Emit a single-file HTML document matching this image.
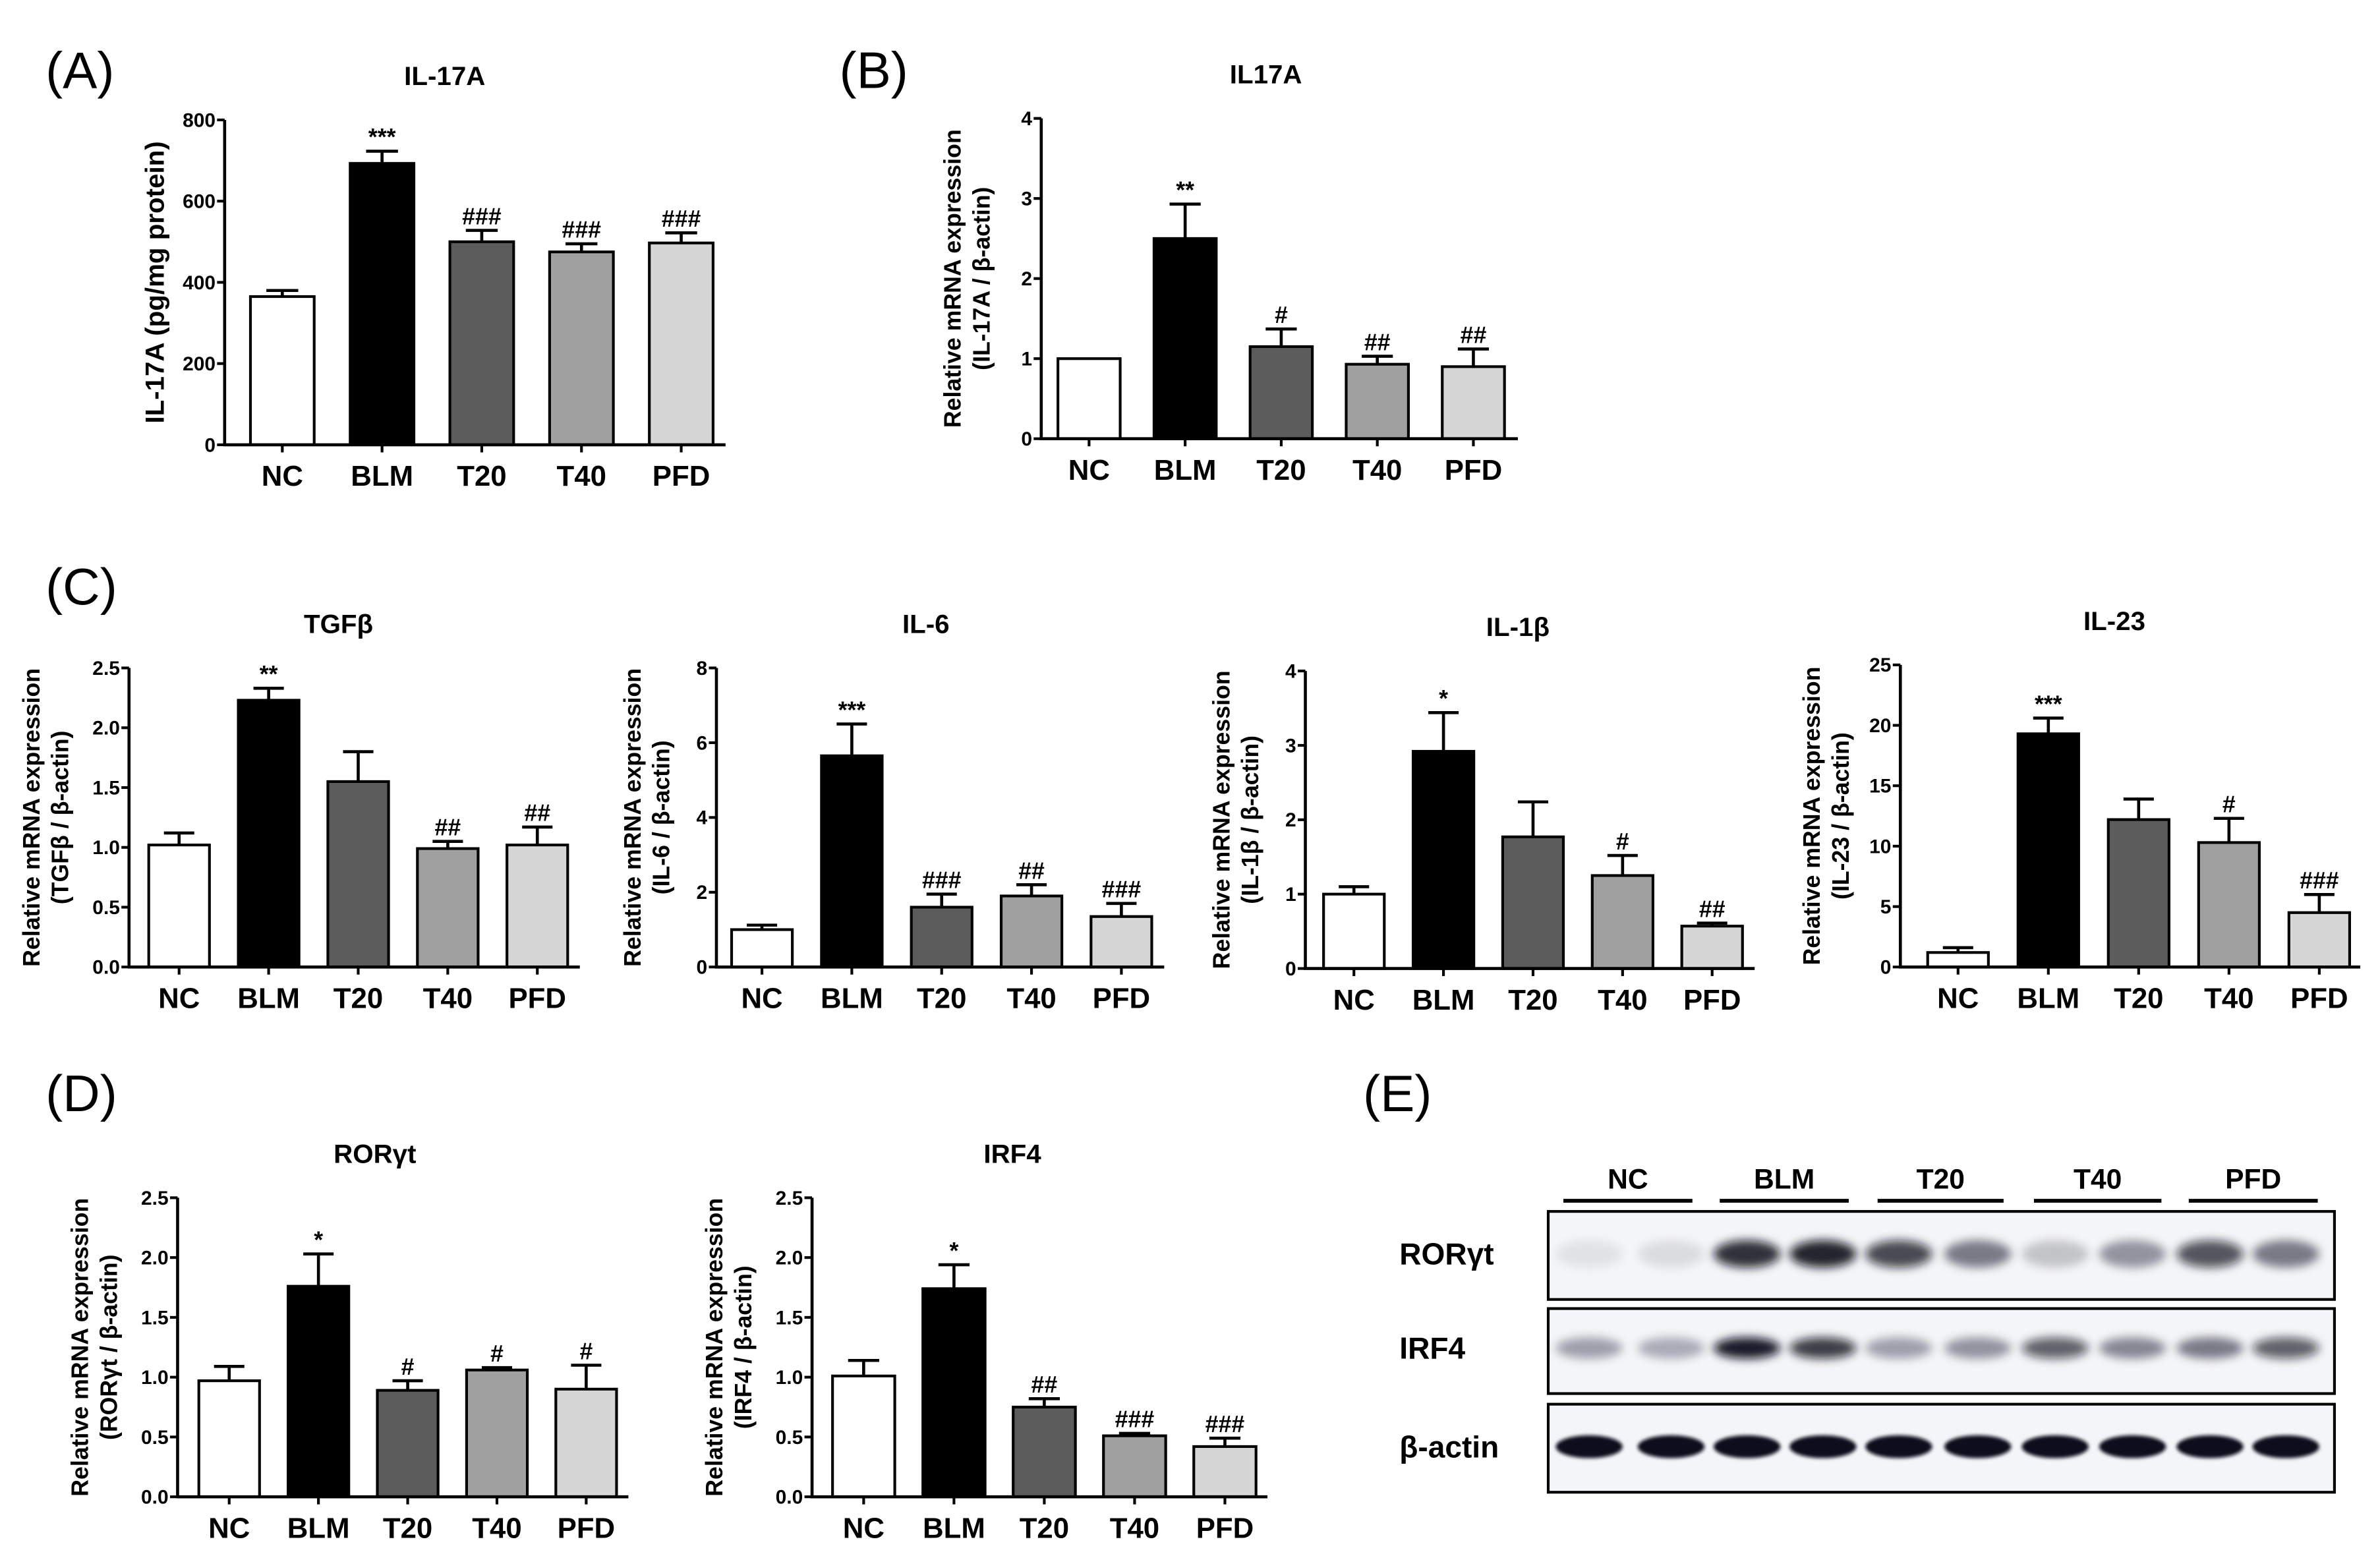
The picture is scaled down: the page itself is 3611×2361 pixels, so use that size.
<!DOCTYPE html>
<html><head><meta charset="utf-8"><style>
html,body{margin:0;padding:0;background:#fff}
svg{display:block}
text{font-family:"Liberation Sans",Arial,sans-serif;font-weight:bold;fill:#000}
</style></head><body>
<svg id="fig" width="3611" height="2361" viewBox="0 0 1568 1025" preserveAspectRatio="none" xmlns="http://www.w3.org/2000/svg">
<defs><filter id="blur" x="-50%" y="-50%" width="200%" height="200%"><feGaussianBlur stdDeviation="3"/></filter>
<filter id="blur2" x="-50%" y="-50%" width="200%" height="200%"><feGaussianBlur stdDeviation="1.2"/></filter></defs>
<text x="30" y="58" font-size="34" style="font-weight:normal">(A)</text>
<text x="553" y="58" font-size="34" style="font-weight:normal">(B)</text>
<text x="30" y="398" font-size="34" style="font-weight:normal">(C)</text>
<text x="30" y="732" font-size="34" style="font-weight:normal">(D)</text>
<text x="898" y="732" font-size="34" style="font-weight:normal">(E)</text>
<g id="charts"></g>
<g id="blot"></g>
</svg>
<script>
const categories = ["NC","BLM","T20","T40","PFD"];
const aValues = [365,693,500,475,497];
const aErrors = [15,30,28,20,25];
const aAnnot = ["","***","###","###","###"];
const aTicks = [0,200,400,600,800];
const bValues = [1.0,2.5,1.15,0.93,0.9];
const bErrors = [0,0.43,0.22,0.1,0.22];
const bAnnot = ["","**","#","##","##"];
const bTicks = [0,1,2,3,4];
const tgfValues = [1.02,2.23,1.55,0.99,1.02];
const tgfErrors = [0.1,0.1,0.25,0.06,0.15];
const tgfAnnot = ["","**","","##","##"];
const tgfTicks = [0,0.5,1.0,1.5,2.0,2.5];
const il6Values = [1.0,5.65,1.6,1.9,1.35];
const il6Errors = [0.12,0.85,0.35,0.3,0.35];
const il6Annot = ["","***","###","##","###"];
const il6Ticks = [0,2,4,6,8];
const il1Values = [1.0,2.92,1.77,1.25,0.57];
const il1Errors = [0.1,0.52,0.47,0.27,0.04];
const il1Annot = ["","*","","#","##"];
const il1Ticks = [0,1,2,3,4];
const il23Values = [1.2,19.3,12.2,10.3,4.5];
const il23Errors = [0.4,1.3,1.7,2.0,1.5];
const il23Annot = ["","***","","#","###"];
const il23Ticks = [0,5,10,15,20,25];
const rorValues = [0.97,1.76,0.89,1.06,0.9];
const rorErrors = [0.12,0.27,0.08,0.02,0.2];
const rorAnnot = ["","*","#","#","#"];
const rorTicks = [0,0.5,1.0,1.5,2.0,2.5];
const irfValues = [1.01,1.74,0.75,0.51,0.42];
const irfErrors = [0.13,0.2,0.07,0.02,0.07];
const irfAnnot = ["","*","##","###","###"];
const irfTicks = [0,0.5,1.0,1.5,2.0,2.5];
const fills = ["#ffffff","#000000","#5c5c5c","#a0a0a0","#d6d6d6"];

const NS="http://www.w3.org/2000/svg";
function mk(tag,attrs,parent){const e=document.createElementNS(NS,tag);for(const k in attrs)e.setAttribute(k,attrs[k]);parent.appendChild(e);return e;}
function fmt(v,dec){return dec?v.toFixed(1):String(v);}

function chart(c){
  const g=mk('g',{},document.getElementById('charts'));
  
  
  const max=c.ticks[c.ticks.length-1];
  const y=v=>c.y0-(v/max)*(c.y0-c.yTop);
  const x=i=>c.x0+i*c.sp;
  const t=mk('text',{x:c.titleX,y:c.yTop-23,'font-size':17.5,'text-anchor':'middle'},g);
  t.textContent=c.title;
  
  
  c.values.forEach((v,i)=>{
    const r=mk('rect',{x:x(i)-c.w/2,y:y(v),width:c.w,height:c.y0-y(v),fill:fills[i],stroke:'#000','stroke-width':1.8},g);
    
    
    const e=c.errors[i];
    if(e>0){
      const eb=mk('path',{d:`M${x(i)} ${y(v)} V${y(v+e)} M${x(i)-c.w/4} ${y(v+e)} H${x(i)+c.w/4}`,stroke:'#000','stroke-width':2,fill:'none'},g);
      
      
    }
    if(c.annot[i]){
      const a=mk('text',{x:x(i),y:y(v+e)-4,'font-size':15.5,'text-anchor':'middle'},g);
      a.textContent=c.annot[i];
      
      
    }
    const l=mk('text',{x:x(i),y:c.y0+27,'font-size':19,'text-anchor':'middle'},g);
    l.textContent=categories[i];
    
    
    mk('line',{x1:x(i),x2:x(i),y1:c.y0,y2:c.y0+5,stroke:'#000','stroke-width':1.8},g);
  });
  const ax=mk('path',{d:`M${c.ax} ${c.yTop} V${c.y0} H${c.xEnd}`,stroke:'#000','stroke-width':2,fill:'none'},g);
  
  
  c.ticks.forEach(tv=>{
    mk('line',{x1:c.ax-5,x2:c.ax,y1:y(tv),y2:y(tv),stroke:'#000','stroke-width':1.8},g);
    const tl=mk('text',{x:c.ax-6,y:y(tv)+4.5,'font-size':13,'text-anchor':'end'},g);
    tl.textContent=fmt(tv,c.dec);
    
    
  });
  const mid=(c.yTop+c.y0)/2;
  c.ylab.forEach((s,k)=>{
    const lx=c.ax-c.labOff+k*19;
    const yl=mk('text',{x:lx,y:mid,'font-size':c.labSize||15.5,'text-anchor':'middle',transform:`rotate(-90 ${lx} ${mid})`},g);
    yl.textContent=s;
    
    
  });
}
const R="Relative mRNA expression";
chart({name:'chart-il17a-protein',title:'IL-17A',titleX:293,ax:148,yTop:79,y0:293,x0:186,sp:65.7,w:42,xEnd:478,values:aValues,errors:aErrors,annot:aAnnot,ticks:aTicks,dec:false,ylab:['IL-17A (pg/mg protein)'],labOff:40,labSize:17.5});
chart({name:'chart-il17a-mrna',title:'IL17A',titleX:834,ax:686,yTop:78,y0:289,x0:717.5,sp:63.3,w:41,xEnd:1000,values:bValues,errors:bErrors,annot:bAnnot,ticks:bTicks,dec:false,ylab:[R,'(IL-17A / β-actin)'],labOff:53});
chart({name:'chart-tgfb',title:'TGFβ',titleX:223,ax:85,yTop:440,y0:637,x0:118,sp:59,w:40,xEnd:382,values:tgfValues,errors:tgfErrors,annot:tgfAnnot,ticks:tgfTicks,dec:true,ylab:[R,'(TGFβ / β-actin)'],labOff:59});
chart({name:'chart-il6',title:'IL-6',titleX:610,ax:472,yTop:440,y0:637,x0:502,sp:59.2,w:40,xEnd:767,values:il6Values,errors:il6Errors,annot:il6Annot,ticks:il6Ticks,dec:false,ylab:[R,'(IL-6 / β-actin)'],labOff:50});
chart({name:'chart-il1b',title:'IL-1β',titleX:1000,ax:860,yTop:442,y0:638,x0:892,sp:59,w:40,xEnd:1156,values:il1Values,errors:il1Errors,annot:il1Annot,ticks:il1Ticks,dec:false,ylab:[R,'(IL-1β / β-actin)'],labOff:50});
chart({name:'chart-il23',title:'IL-23',titleX:1393,ax:1252,yTop:438,y0:637,x0:1290,sp:59.5,w:40,xEnd:1555,values:il23Values,errors:il23Errors,annot:il23Annot,ticks:il23Ticks,dec:false,ylab:[R,'(IL-23 / β-actin)'],labOff:53});
chart({name:'chart-rorgt',title:'RORγt',titleX:247,ax:117,yTop:789,y0:986,x0:151,sp:58.8,w:40,xEnd:414,values:rorValues,errors:rorErrors,annot:rorAnnot,ticks:rorTicks,dec:true,ylab:[R,'(RORγt / β-actin)'],labOff:59});
chart({name:'chart-irf4',title:'IRF4',titleX:667,ax:535,yTop:789,y0:986,x0:569,sp:59.5,w:41,xEnd:835,values:irfValues,errors:irfErrors,annot:irfAnnot,ticks:irfTicks,dec:true,ylab:[R,'(IRF4 / β-actin)'],labOff:59});

// Western blot
const lanes=[1047,1101,1151,1201,1251,1303,1354,1405,1456,1506];
const rorInt=[0.08,0.1,0.85,0.9,0.75,0.5,0.2,0.4,0.7,0.5];
const irfInt=[0.35,0.3,0.95,0.8,0.35,0.4,0.65,0.45,0.5,0.65];
const actInt=[1,1,1,1,1,1,1,1,1,1];
const blot=document.getElementById('blot');
const groups=[[1030,1115],[1133,1218],[1237,1320],[1340,1424],[1442,1527]];
groups.forEach((gp,i)=>{
  const ln=mk('line',{x1:gp[0],x2:gp[1],y1:791,y2:791,stroke:'#000','stroke-width':2.5},blot);
  
  
  const t=mk('text',{x:(gp[0]+gp[1])/2,y:783,'font-size':18.5,'text-anchor':'middle'},blot);
  t.textContent=categories[i];
  
  
});
const rows=[['RORγt',798,856,826,rorInt,14,true],['IRF4',862,918,888,irfInt,10,true],['β-actin',925,983,953,actInt,15,false]];
rows.forEach(r=>{
  const box=mk('rect',{x:1020,y:r[1],width:518,height:r[2]-r[1],fill:'#f4f5f8',stroke:'#000','stroke-width':1.8},blot);
  
  
  const lb=mk('text',{x:922,y:r[3]+7,'font-size':20},blot);
  lb.textContent=r[0];
  
  
  lanes.forEach((lx,i)=>{
    const v=r[4][i];
    const e=mk('ellipse',{cx:lx,cy:r[3],rx:22,ry:r[5]/2+(r[6]?2:0),fill:'#0a0a1a','fill-opacity':v,filter:r[6]?'url(#blur)':'url(#blur2)'},blot);
    
    
  });
});
</script>
</body></html>
